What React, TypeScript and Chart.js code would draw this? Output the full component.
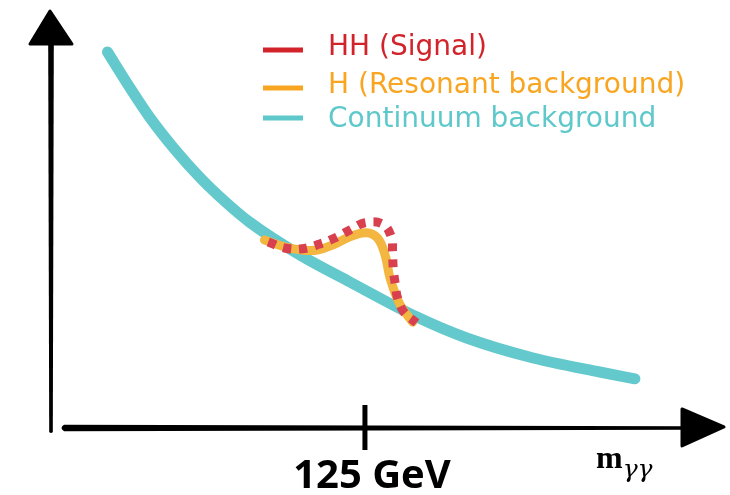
import React, { useEffect, useRef } from "react";
import { Chart, registerables } from "chart.js";

Chart.register(...registerables);

// ---- data ----
const continuumX = [104.5, 106.3, 107.9, 109.9, 111.9, 113.9, 115.8, 119.8, 123.8, 129.1, 133.1, 138.4, 143.7, 146.5];
const continuumY = [94, 85, 77.5, 69.5, 62.5, 56.5, 51.5, 43.3, 36.5, 27.8, 22.5, 17.5, 14, 12.3];

const resonantX = [117.0, 118.6, 120.0, 121.2, 122.6, 123.8, 125.1, 126.0, 126.6, 127.0, 127.8, 128.8];
const resonantY = [47, 45.3, 44.5, 44.5, 46, 47.8, 48.8, 47.5, 43.3, 37.5, 30.8, 26.5];

const signalX = [117.3, 118.6, 120.0, 121.4, 122.6, 123.8, 125.0, 126.4, 127.1, 127.2, 127.25, 127.4, 127.6, 128.1, 129.1];
const signalY = [46.5, 45, 44.8, 46, 47.5, 49.5, 51.3, 51, 47.8, 44, 40, 36.3, 32.5, 29, 26.3];

const seriesLabels = ["HH (Signal)", "H (Resonant background)", "Continuum background"];
const lineColors = ["#d8404f", "#f3b640", "#64c9cc"];
const legendColors = ["#d2232b", "#f8a622", "#5ec8ca"];

const tickValues = [125];
const tickLabels = ["125 GeV"];
const axisTitleMain = "m";
const axisTitleSub = "γγ";

const xMin = 100;
const xMax = 152;
const yMin = 0;
const yMax = 100;

const toPts = (xs: number[], ys: number[]) => xs.map((x, i) => ({ x, y: ys[i] }));

const sketchPlugin = {
  id: "sketchAxes",
  beforeDatasetsDraw(chart: any) {
    const { ctx, chartArea } = chart;
    const L = chartArea.left;
    const B = chartArea.bottom;
    const R = chartArea.right;
    const T = chartArea.top;
    ctx.save();
    ctx.fillStyle = "#000";
    ctx.strokeStyle = "#000";
    ctx.lineJoin = "round";
    // y axis line
    ctx.beginPath();
    ctx.moveTo(L - 2.8, T + 16);
    ctx.lineTo(L + 2.8, T + 16);
    ctx.lineTo(L + 1.8, B + 4);
    ctx.quadraticCurveTo(L, B + 6, L - 1.8, B + 4);
    ctx.closePath();
    ctx.fill();
    // y arrow head
    ctx.lineWidth = 3;
    ctx.beginPath();
    ctx.moveTo(L - 21, T + 16);
    ctx.lineTo(L + 21, T + 16);
    ctx.lineTo(L - 1, T - 17);
    ctx.closePath();
    ctx.fill();
    ctx.stroke();
    // x axis line
    const x0 = L + 13;
    const xe = R - 20;
    ctx.beginPath();
    ctx.moveTo(x0, B - 3.2);
    ctx.lineTo(xe, B - 1.8);
    ctx.lineTo(xe, B + 1.8);
    ctx.lineTo(x0, B + 3.2);
    ctx.quadraticCurveTo(x0 - 5, B, x0, B - 3.2);
    ctx.closePath();
    ctx.fill();
    // x arrow head
    ctx.beginPath();
    ctx.moveTo(R - 22, B - 19);
    ctx.lineTo(R - 22, B + 18);
    ctx.lineTo(R + 20, B - 1);
    ctx.closePath();
    ctx.fill();
    ctx.stroke();
    // ticks + labels
    const xs = chart.scales.x;
    tickValues.forEach((v, i) => {
      const px = xs.getPixelForValue(v);
      ctx.fillRect(px - 2.5, B - 23, 5, 45);
      ctx.font = 'bold 40px "Open Sans"';
      ctx.textAlign = "center";
      ctx.textBaseline = "alphabetic";
      ctx.fillText(tickLabels[i], px + 7, B + 60);
    });
    // axis title
    ctx.textAlign = "left";
    ctx.font = 'bold 32px "Liberation Serif"';
    const mx = R - 108;
    ctx.fillText(axisTitleMain, mx, B + 40);
    const mw = ctx.measureText(axisTitleMain).width;
    ctx.font = 'italic 25px "DejaVu Serif"';
    ctx.fillText(axisTitleSub, mx + mw, B + 49);
    ctx.restore();
  },
  afterDraw(chart: any) {
    const { ctx } = chart;
    ctx.save();
    const lineY = [50, 88, 118];
    const textY = [48, 86, 120];
    chart.data.datasets.forEach((ds: any, i: number) => {
      ctx.fillStyle = legendColors[i];
      ctx.fillRect(263, lineY[i] - 2.5, 40, 5);
      ctx.font = '28px "DejaVu Sans"';
      ctx.textAlign = "left";
      ctx.textBaseline = "middle";
      ctx.fillText(ds.label, 328, textY[i]);
    });
    ctx.restore();
  },
};

export default function App() {
  const ref = useRef<HTMLCanvasElement | null>(null);
  useEffect(() => {
    if (!ref.current) return;
    const chart = new Chart(ref.current, {
      type: "line",
      data: {
        datasets: [
          {
            label: seriesLabels[0],
            data: toPts(signalX, signalY),
            borderColor: lineColors[0],
            borderWidth: 9,
            borderDash: [8, 8],
            borderCapStyle: "butt",
            pointRadius: 0,
            tension: 0.4,
            fill: false,
          },
          {
            label: seriesLabels[1],
            data: toPts(resonantX, resonantY),
            borderColor: lineColors[1],
            borderWidth: 9,
            borderCapStyle: "round",
            pointRadius: 0,
            tension: 0.4,
            fill: false,
          },
          {
            label: seriesLabels[2],
            data: toPts(continuumX, continuumY),
            borderColor: lineColors[2],
            borderWidth: 11,
            borderCapStyle: "round",
            pointRadius: 0,
            cubicInterpolationMode: "monotone",
            fill: false,
          },
        ],
      },
      options: {
        responsive: false,
        animation: false,
        layout: { padding: { left: 51, right: 26, top: 28, bottom: 67 } },
        scales: {
          x: { type: "linear", min: xMin, max: xMax, display: false },
          y: { type: "linear", min: yMin, max: yMax, display: false },
        },
        plugins: { legend: { display: false }, tooltip: { enabled: false } },
      },
      plugins: [sketchPlugin],
    });
    return () => chart.destroy();
  }, []);
  return (
    <div style={{ position: "fixed", left: 0, top: 0, width: 730, height: 495, background: "#fff" }}>
      <canvas ref={ref} width={730} height={495} style={{ display: "block" }} />
    </div>
  );
}
